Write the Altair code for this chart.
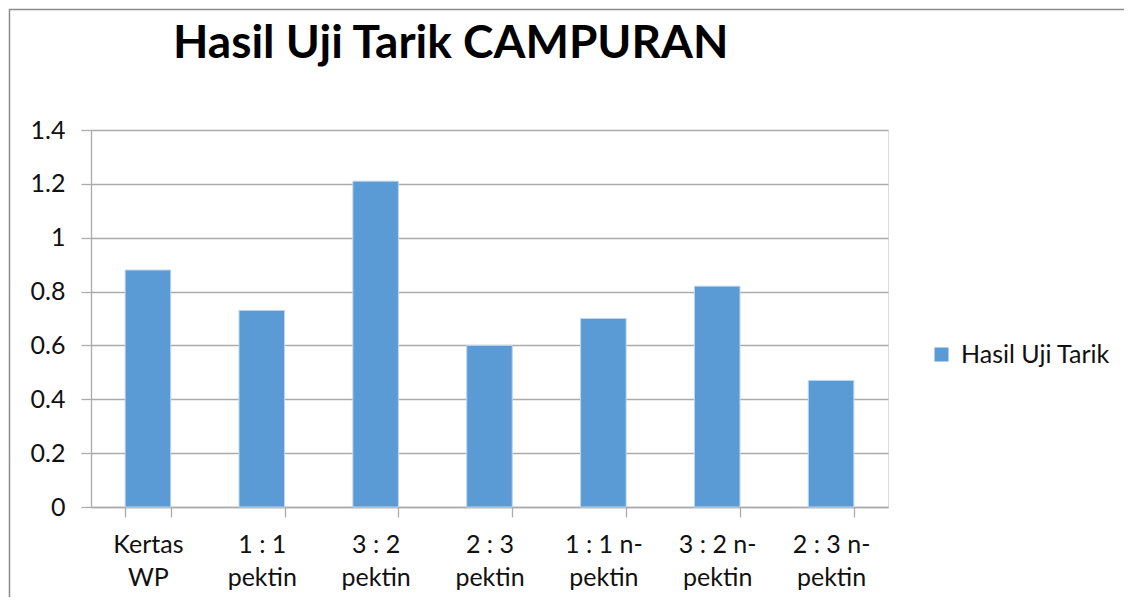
import altair as alt
import pandas as pd

categories = ["Kertas\nWP", "1 : 1\npektin", "3 : 2\npektin", "2 : 3\npektin",
              "1 : 1 n-\npektin", "3 : 2 n-\npektin", "2 : 3 n-\npektin"]
values = [0.88, 0.73, 1.21, 0.60, 0.70, 0.82, 0.47]
series_name = "Hasil Uji Tarik"
y_ticks = [0, 0.2, 0.4, 0.6, 0.8, 1.0, 1.2, 1.4]

df = pd.DataFrame({"kategori": categories, "nilai": values, "seri": [series_name] * len(values)})

FONT = "Lato"
GRID = "#ababab"
FS = 25

bars = alt.Chart(df).mark_bar(stroke="#bcd5ef", strokeWidth=1).encode(
    x=alt.X("kategori:N", sort=categories, title=None,
            scale=alt.Scale(paddingInner=0.6, paddingOuter=0.3),
            axis=alt.Axis(labelAngle=0, labelExpr="split(datum.label, '\\n')",
                          labelFont=FONT, labelFontSize=FS, labelColor="#111111",
                          labelLineHeight=33, labelPadding=15, tickBand="extent",
                          tickSize=10, tickColor=GRID, domainColor=GRID,
                          domainWidth=1.3, tickWidth=1.3, grid=False, labelBaseline="top")),
    y=alt.Y("nilai:Q", title=None,
            scale=alt.Scale(domain=[0, 1.4], nice=False),
            axis=alt.Axis(values=y_ticks, labelFont=FONT, labelFontSize=FS,
                          labelColor="#111111", labelPadding=16, tickSize=10,
                          tickColor=GRID, domainColor=GRID, domainWidth=1.3,
                          tickWidth=1.3, gridColor=GRID, gridWidth=1.3,
                          labelExpr="format(datum.value, '.1~f')")),
    color=alt.Color("seri:N", scale=alt.Scale(range=["#5b9bd5"]),
                    legend=alt.Legend(title=None, orient="none", legendX=838, legendY=212,
                                      symbolType="square", symbolSize=196,
                                      symbolStrokeWidth=0, labelFont=FONT,
                                      labelFontSize=FS, labelColor="#111111",
                                      labelOffset=7, padding=0)),
)

border = alt.Chart(pd.DataFrame({"d": [0]})).mark_rect(
    fill="transparent", stroke="#8c8c8c", strokeWidth=1.5
).encode(
    x=alt.value(-81.5), x2=alt.value(1400),
    y=alt.value(-120.5), y2=alt.value(900),
)

chart = alt.layer(border, bars).properties(
    width=797, height=377,
    title=alt.TitleParams("Hasil Uji Tarik CAMPURAN", anchor="start", frame="group",
                          font=FONT, fontSize=46, fontWeight="bold", color="#000000",
                          baseline="alphabetic", offset=-95, dx=82),
    padding={"left": 83, "top": 122, "right": 236, "bottom": 90},
    autosize=alt.AutoSizeParams(type="none"),
).configure_view(stroke=None).configure(background="white")

chart.save("out.html", embed_options={"renderer": "svg", "actions": False})
